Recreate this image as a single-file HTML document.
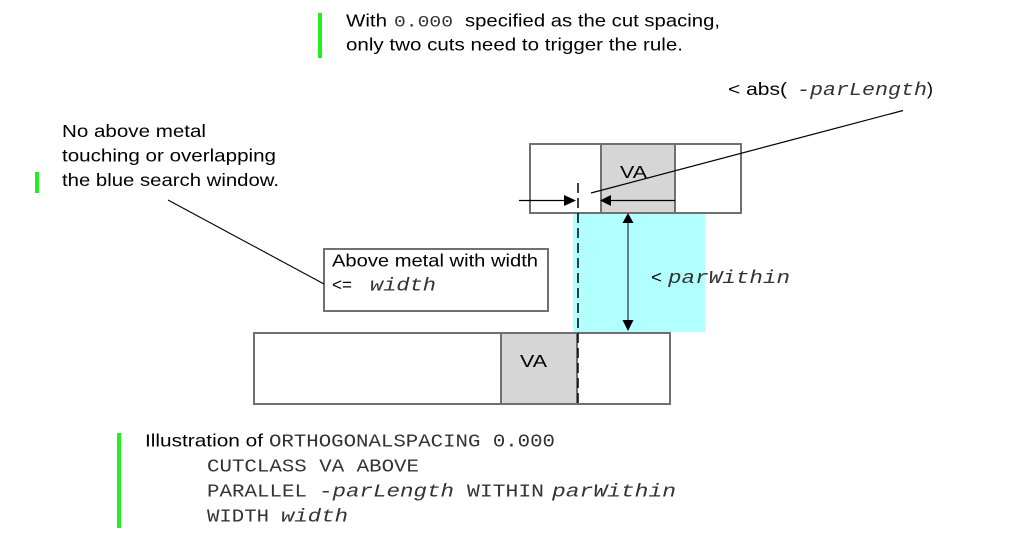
<!DOCTYPE html>
<html><head><meta charset="utf-8"><style>
html,body{margin:0;padding:0;background:#fff;}
svg{display:block;}
.s{font-family:"Liberation Sans",Arial,sans-serif;font-size:17.5px;fill:#000;}
.m{font-family:"Liberation Mono","Courier New",monospace;font-size:18px;fill:#333;}
.i{font-style:italic;}
</style></head><body>
<svg width="1013" height="546" viewBox="0 0 1013 546" xmlns="http://www.w3.org/2000/svg">
<!-- green bars -->
<rect x="318" y="13" width="4" height="45" fill="#22ee22"/>
<rect x="35" y="172" width="4" height="21" fill="#22ee22"/>
<rect x="117" y="433" width="4" height="95" fill="#22ee22"/>

<!-- top metal -->
<rect x="530" y="144" width="211" height="69" fill="#fff" stroke="#707070" stroke-width="2"/>
<rect x="601" y="144" width="74" height="69" fill="#d6d6d6" stroke="#707070" stroke-width="2"/>

<!-- bottom metal -->
<rect x="254" y="333" width="416" height="71" fill="#fff" stroke="#707070" stroke-width="2"/>
<rect x="501" y="333" width="76" height="71" fill="#d6d6d6" stroke="#707070" stroke-width="2"/>

<!-- cyan search window -->
<rect x="573" y="214" width="132" height="118" fill="#b2ffff"/>

<!-- above metal box -->
<rect x="324" y="249" width="224" height="62" fill="#fff" stroke="#707070" stroke-width="2"/>

<!-- dashed line -->
<line x1="578" y1="183" x2="578" y2="404" stroke="#000" stroke-width="1.5" stroke-dasharray="10,5"/>

<!-- horizontal arrows -->
<line x1="519" y1="200.5" x2="566" y2="200.5" stroke="#000" stroke-width="1.2"/>
<polygon points="576,200.5 564,195 564,206" fill="#000"/>
<line x1="610" y1="200.5" x2="675" y2="200.5" stroke="#000" stroke-width="1.2"/>
<polygon points="600,200.5 611,195 611,206" fill="#000"/>

<!-- vertical arrow -->
<line x1="628" y1="220" x2="628" y2="322" stroke="#4f7a7a" stroke-width="1.8"/>
<polygon points="628,213 622.5,223 633.5,223" fill="#000"/>
<polygon points="628,331 622.5,320 633.5,320" fill="#000"/>

<!-- leader lines -->
<line x1="591" y1="193" x2="903" y2="110.5" stroke="#000" stroke-width="1.2"/>
<line x1="168" y1="200" x2="324" y2="284" stroke="#000" stroke-width="1.1"/>

<!-- texts -->
<text class="s" x="346" y="26.5" textLength="41" lengthAdjust="spacingAndGlyphs">With</text>
<text class="m" x="394" y="26.5" textLength="59" lengthAdjust="spacingAndGlyphs" style="font-size:16px">0.000</text>
<text class="s" x="465" y="26.5" textLength="255" lengthAdjust="spacingAndGlyphs">specified as the cut spacing,</text>
<text class="s" x="346" y="50.5" textLength="337" lengthAdjust="spacingAndGlyphs">only two cuts need to trigger the rule.</text>

<text class="s" x="728" y="95" textLength="59" lengthAdjust="spacingAndGlyphs">&lt; abs(</text>
<text class="m i" x="797" y="95" textLength="130" lengthAdjust="spacingAndGlyphs">-parLength</text>
<text class="s" x="927" y="95" textLength="6" lengthAdjust="spacingAndGlyphs">)</text>

<text class="s" x="62" y="137" textLength="144" lengthAdjust="spacingAndGlyphs">No above metal</text>
<text class="s" x="62" y="161.5" textLength="214" lengthAdjust="spacingAndGlyphs">touching or overlapping</text>
<text class="s" x="62" y="186" textLength="217" lengthAdjust="spacingAndGlyphs">the blue search window.</text>

<text class="s" x="620" y="178" textLength="27" lengthAdjust="spacingAndGlyphs">VA</text>
<text class="s" x="520" y="367" textLength="27" lengthAdjust="spacingAndGlyphs">VA</text>

<text class="s" x="332" y="266.5" textLength="206" lengthAdjust="spacingAndGlyphs">Above metal with width</text>
<text class="s" x="332" y="290.5" textLength="20" lengthAdjust="spacingAndGlyphs">&lt;=</text>
<text class="m i" x="370" y="290.5" textLength="66" lengthAdjust="spacingAndGlyphs">width</text>

<text class="s" x="651" y="283" textLength="11" lengthAdjust="spacingAndGlyphs">&lt;</text>
<text class="m i" x="668" y="283" textLength="122" lengthAdjust="spacingAndGlyphs">parWithin</text>

<text class="s" x="145" y="446.5" textLength="118" lengthAdjust="spacingAndGlyphs">Illustration of</text>
<text class="m" x="269" y="446.5" textLength="286" lengthAdjust="spacingAndGlyphs">ORTHOGONALSPACING 0.000</text>
<text class="m" x="207" y="471.5" textLength="212" lengthAdjust="spacingAndGlyphs">CUTCLASS VA ABOVE</text>
<text class="m" x="207" y="496.5" textLength="100" lengthAdjust="spacingAndGlyphs">PARALLEL</text>
<text class="m i" x="319" y="496.5" textLength="135" lengthAdjust="spacingAndGlyphs">-parLength</text>
<text class="m" x="467" y="496.5" textLength="77" lengthAdjust="spacingAndGlyphs">WITHIN</text>
<text class="m i" x="552" y="496.5" textLength="124" lengthAdjust="spacingAndGlyphs">parWithin</text>
<text class="m" x="207" y="521.5" textLength="62" lengthAdjust="spacingAndGlyphs">WIDTH</text>
<text class="m i" x="281" y="521.5" textLength="67" lengthAdjust="spacingAndGlyphs">width</text>
</svg>
</body></html>
